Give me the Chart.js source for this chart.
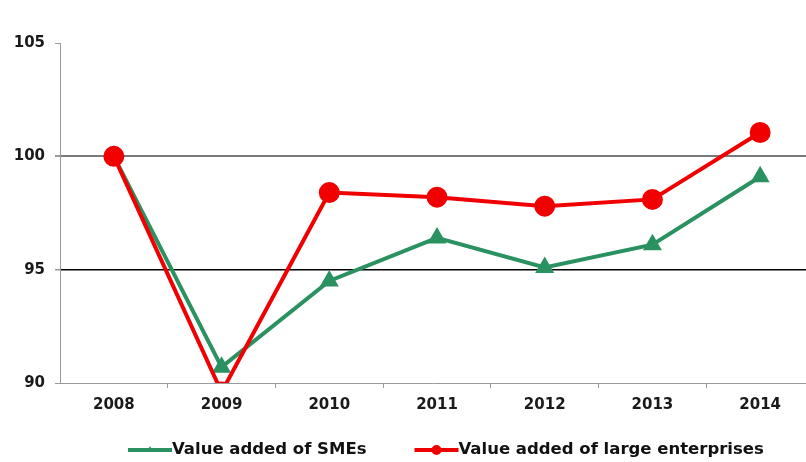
<!DOCTYPE html>
<html>
<head>
<meta charset="utf-8">
<script src="https://cdn.jsdelivr.net/npm/chart.js@4.4.1/dist/chart.umd.min.js"></script>
<style>
  html, body { margin: 0; padding: 0; background: #fff; overflow: hidden; }
  #wrap { position: relative; width: 806px; height: 462px; overflow: hidden; }
</style>
</head>
<body>
<div id="wrap"><canvas id="c" width="806" height="462"></canvas></div>
<script>
const years = ['2008', '2009', '2010', '2011', '2012', '2013', '2014'];
const smeValues = [100, 90.7, 94.5, 96.4, 95.1, 96.1, 99.1];
const largeValues = [100, 89.6, 98.4, 98.2, 97.8, 98.1, 101.05];
const seriesNames = ['Value added of SMEs', 'Value added of large enterprises'];
const yTicks = [90, 95, 100, 105];

const GREEN = '#2a9160';
const RED = '#f00000';
const FONT = 'DejaVu Sans';

// The reference's plot area runs slightly past the right edge of the picture.
const areaPlugin = {
  id: 'extendArea',
  afterLayout(chart) {
    const area = chart.chartArea;
    const right = chart.width + 8;
    area.right = right;
    area.width = right - area.left;
    const x = chart.scales.x;
    x.right = right;
    x.width = right - x.left;
    x.configure();
  }
};

const legendPlugin = {
  id: 'customLegend',
  afterDraw(chart) {
    const ctx = chart.ctx;
    const area = chart.chartArea;
    ctx.save();
    ctx.font = 'bold 16.5px "' + FONT + '"';
    ctx.textBaseline = 'middle';
    ctx.textAlign = 'left';
    let x = area.left + 68;
    const y = 450;
    chart.data.datasets.forEach((ds) => {
      ctx.strokeStyle = ds.borderColor;
      ctx.lineWidth = 4;
      ctx.beginPath();
      ctx.moveTo(x, y);
      ctx.lineTo(x + 44, y);
      ctx.stroke();
      ctx.fillStyle = ds.borderColor;
      Chart.helpers.drawPoint(ctx, {
        pointStyle: ds.pointStyle, rotation: 0, radius: ds.legendRadius, borderWidth: 0
      }, x + 22, y);
      ctx.fillStyle = '#111';
      ctx.fillText(ds.label, x + 44, y);
      x += 44 + ctx.measureText(ds.label).width + 48;
    });
    ctx.restore();
  }
};

new Chart(document.getElementById('c'), {
  type: 'line',
  data: {
    labels: years,
    datasets: [
      {
        label: seriesNames[0],
        data: smeValues,
        borderColor: GREEN,
        backgroundColor: GREEN,
        borderWidth: 4,
        pointStyle: 'triangle',
        pointRadius: 7,
        legendRadius: 4,
        tension: 0,
        order: 2
      },
      {
        label: seriesNames[1],
        data: largeValues,
        borderColor: RED,
        backgroundColor: RED,
        borderWidth: 4,
        pointStyle: 'circle',
        pointRadius: 8.5,
        legendRadius: 5,
        tension: 0,
        order: 1
      }
    ]
  },
  options: {
    responsive: false,
    animation: false,
    events: [],
    layout: { padding: { top: 43, left: 0, right: 0, bottom: 45 } },
    plugins: {
      legend: { display: false },
      tooltip: { enabled: false },
      title: { display: false }
    },
    scales: {
      x: {
        type: 'category',
        offset: true,
        afterFit(scale) { scale.height = 34; },
        border: { display: true, color: '#9a9a9a', width: 1 },
        grid: {
          offset: true,
          drawOnChartArea: false,
          drawTicks: true,
          tickLength: 5,
          tickColor(ctx) {
            return (ctx.index >= 1 && ctx.index <= years.length - 1) ? '#9a9a9a' : 'rgba(0,0,0,0)';
          }
        },
        ticks: {
          color: '#1a1a1a',
          font: { family: FONT, size: 15, weight: 'bold' },
          padding: 8,
          maxRotation: 0
        }
      },
      y: {
        min: 90,
        max: 105,
        afterFit(scale) { scale.width = 60; },
        afterBuildTicks(scale) { scale.ticks = yTicks.map(v => ({ value: v })); },
        border: { display: true, color: '#9a9a9a', width: 1 },
        grid: {
          drawOnChartArea: true,
          drawTicks: true,
          tickLength: 5,
          tickColor: '#9a9a9a',
          color(ctx) {
            const v = ctx.tick && ctx.tick.value;
            if (v === 100) return '#7a7a7a';
            if (v === 95) return '#000000';
            return 'rgba(0,0,0,0)';
          },
          lineWidth(ctx) {
            const v = ctx.tick && ctx.tick.value;
            if (v === 100) return 2;
            if (v === 95) return 1.5;
            return 1;
          }
        },
        ticks: {
          color: '#1a1a1a',
          font: { family: FONT, size: 15, weight: 'bold' },
          padding: 10
        }
      }
    }
  },
  plugins: [areaPlugin, legendPlugin]
});
</script>
</body>
</html>
